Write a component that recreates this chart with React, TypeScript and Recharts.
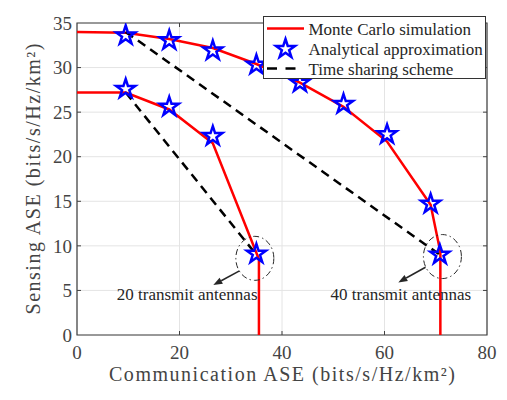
import React from 'react';
import {
  ComposedChart,
  Line,
  XAxis,
  YAxis,
  CartesianGrid,
  ReferenceArea,
  ReferenceDot,
  ReferenceLine,
  Label,
} from 'recharts';

// ---------- data ----------
const xTicks = [0, 20, 40, 60, 80];
const yTicks = [0, 5, 10, 15, 20, 25, 30, 35];

const seriesNames = ['Monte Carlo simulation', 'Analytical approximation', 'Time sharing scheme'];

// 20 transmit antennas
const mc20X = [0, 9.5, 18, 26.5, 35.5, 35.5];
const mc20Y = [27.2, 27.2, 25.3, 21.5, 8.5, 0];
const an20X = [9.5, 18, 26.5, 35];
const an20Y = [27.6, 25.6, 22.3, 9.1];
const ts20X = [9.5, 35];
const ts20Y = [27.2, 9.0];

// 40 transmit antennas
const mc40X = [0, 9.5, 18, 26.5, 35, 43.5, 52, 60.5, 69, 70.9, 70.9];
const mc40Y = [34.0, 33.9, 33.2, 32.2, 30.4, 28.3, 25.6, 21.7, 14.6, 9.3, 0];
const an40X = [9.5, 18, 26.5, 35, 43.5, 52, 60.5, 69, 70.8];
const an40Y = [33.6, 33.05, 31.9, 30.3, 28.3, 25.9, 22.5, 14.7, 9.0];
const ts40X = [9.5, 70.8];
const ts40Y = [34.0, 9.0];

// annotations
const annotLabels = ['20 transmit antennas', '40 transmit antennas'];
const circleX = [34.7, 71.3];
const circleY = [8.6, 8.8];
const arrowFromX = [31.7, 68.0];
const arrowFromY = [7.2, 7.6];
const arrowToX = [26.6, 62.7];
const arrowToY = [5.6, 5.9];
const labelX = [21.5, 63.2];
const labelY = [3.9, 3.9];

const pts = (xs: number[], ys: number[]) => xs.map((x, i) => ({ x, y: ys[i] }));

const RED = '#ff0000';
const BLUE = '#0000ff';
const SERIF = "'Liberation Serif', 'DejaVu Serif', 'Times New Roman', serif";
const AXIS_TEXT = '#444444';
const AXIS_LINE = '#404040';

const starPath = (cx: number, cy: number, R: number) => {
  const r = R * 0.382;
  let d = '';
  for (let k = 0; k < 10; k++) {
    const ang = (-90 + k * 36) * (Math.PI / 180);
    const rad = k % 2 === 0 ? R : r;
    const px = cx + rad * Math.cos(ang);
    const py = cy + rad * Math.sin(ang);
    d += (k === 0 ? 'M' : 'L') + px.toFixed(2) + ',' + py.toFixed(2);
  }
  return d + 'Z';
};

const StarDot = (props: any) => {
  const { cx, cy, index } = props;
  if (cx == null || cy == null) return <g key={index} />;
  return (
    <path
      key={index}
      d={starPath(cx, cy, 10)}
      fill="none"
      stroke={BLUE}
      strokeWidth={2.5}
      strokeLinejoin="miter"
    />
  );
};

const Ellipse = (props: any) => (
  <ellipse
    cx={props.cx}
    cy={props.cy}
    rx={19}
    ry={22}
    fill="none"
    stroke="#262626"
    strokeWidth={1}
    strokeDasharray="6 3 1.5 3"
  />
);

const Arrow = (props: any) => {
  const { x1, y1, x2, y2 } = props;
  const dx = x2 - x1;
  const dy = y2 - y1;
  const len = Math.sqrt(dx * dx + dy * dy) || 1;
  const ux = dx / len;
  const uy = dy / len;
  const hl = 9;
  const hw = 3.5;
  const bx = x2 - ux * hl;
  const by = y2 - uy * hl;
  const p1 = `${bx + -uy * hw},${by + ux * hw}`;
  const p2 = `${bx - -uy * hw},${by - ux * hw}`;
  return (
    <g>
      <line x1={x1} y1={y1} x2={bx} y2={by} stroke="#262626" strokeWidth={1.5} />
      <polygon points={`${x2},${y2} ${p1} ${p2}`} fill="#262626" />
    </g>
  );
};

// inward tick marks on the box (MATLAB style)
const VTick = (props: any) => {
  const { x1, y1, y2 } = props;
  const top = Math.min(y1, y2);
  const bot = Math.max(y1, y2);
  return (
    <g>
      <line x1={x1} y1={bot} x2={x1} y2={bot - 4} stroke={AXIS_LINE} strokeWidth={1} />
      <line x1={x1} y1={top} x2={x1} y2={top + 4} stroke={AXIS_LINE} strokeWidth={1} />
    </g>
  );
};
const HTick = (props: any) => {
  const { y1, x1, x2 } = props;
  const l = Math.min(x1, x2);
  const r = Math.max(x1, x2);
  return (
    <g>
      <line x1={l} y1={y1} x2={l + 4} y2={y1} stroke={AXIS_LINE} strokeWidth={1} />
      <line x1={r} y1={y1} x2={r - 4} y2={y1} stroke={AXIS_LINE} strokeWidth={1} />
    </g>
  );
};

const makeTextShape = (text: string) => (props: any) => (
  <text
    x={props.cx}
    y={props.cy}
    textAnchor="middle"
    style={{ fontFamily: SERIF, fontSize: 17 }}
    fill="#262626"
  >
    {text}
  </text>
);

const XLabel = (props: any) => {
  const vb = props.viewBox || { x: 69, y: 327, width: 410, height: 40 };
  return (
    <text
      x={vb.x + vb.width / 2}
      y={vb.y + 45.5}
      textAnchor="middle"
      style={{ fontFamily: SERIF, fontSize: 20 }}
      fill={AXIS_TEXT}
      textLength={346}
      lengthAdjust="spacing"
    >
      Communication ASE (bits/s/Hz/km²)
    </text>
  );
};

const YLabel = (props: any) => {
  const vb = props.viewBox || { x: 19, y: 15, width: 50, height: 312 };
  const cx = vb.x + 12.5;
  const cy = vb.y + vb.height / 2;
  return (
    <text
      x={cx}
      y={cy}
      transform={`rotate(-90, ${cx}, ${cy})`}
      textAnchor="middle"
      style={{ fontFamily: SERIF, fontSize: 20 }}
      fill={AXIS_TEXT}
      textLength={271}
      lengthAdjust="spacing"
    >
      Sensing ASE (bits/s/Hz/km²)
    </text>
  );
};

const LegendBox = () => (
  <div
    style={{
      position: 'absolute',
      left: 255,
      top: 8,
      width: 223,
      height: 63,
      boxSizing: 'border-box',
      border: '1px solid #333',
      background: '#fff',
    }}
  >
    <svg width={221} height={61} style={{ display: 'block' }}>
      <line x1={3} y1={11.5} x2={40} y2={11.5} stroke={RED} strokeWidth={2.5} />
      <path d={starPath(21.5, 32, 10)} fill="none" stroke={BLUE} strokeWidth={2.5} />
      <line x1={3} y1={51.5} x2={40} y2={51.5} stroke="#000" strokeWidth={2.5} strokeDasharray="10 8.5" />
      {seriesNames.map((n, i) => (
        <text key={n} x={44.5} y={17.5 + i * 20} style={{ fontFamily: SERIF, fontSize: 17 }} fill="#262626">
          {n}
        </text>
      ))}
    </svg>
  </div>
);

const tickStyle = { fontSize: 19, fontFamily: SERIF, fill: AXIS_TEXT };

export default function App() {
  const mc20 = pts(mc20X, mc20Y);
  const mc40 = pts(mc40X, mc40Y);
  const an20 = pts(an20X, an20Y);
  const an40 = pts(an40X, an40Y);
  const ts20 = pts(ts20X, ts20Y);
  const ts40 = pts(ts40X, ts40Y);

  return (
    <div style={{ position: 'relative', width: 499, height: 392, fontFamily: SERIF }}>
      <div
        style={{
          position: 'absolute',
          left: -1,
          top: -2,
          width: 500,
          height: 394,
          boxSizing: 'border-box',
          borderTop: '1px solid #333',
          borderLeft: '1px solid #333',
        }}
      />
      <ComposedChart
        width={499}
        height={392}
        margin={{ top: 15, right: 20, bottom: 25, left: 19 }}
        style={{ fontFamily: SERIF }}
      >
        <CartesianGrid stroke="#e4e4e4" strokeWidth={1} />
        <XAxis
          type="number"
          dataKey="x"
          domain={[0, 80]}
          ticks={xTicks}
          interval={0}
          allowDataOverflow
          height={40}
          tickLine={false}
          axisLine={false}
          tickSize={0}
          tickMargin={11}
          tick={tickStyle}
        >
          <Label content={XLabel} />
        </XAxis>
        <YAxis
          type="number"
          dataKey="y"
          domain={[0, 35]}
          ticks={yTicks}
          interval={0}
          allowDataOverflow
          width={50}
          tickLine={false}
          axisLine={false}
          tickSize={0}
          tickMargin={5}
          tick={tickStyle}
        >
          <Label content={YLabel} />
        </YAxis>
        <ReferenceArea x1={0} x2={80} y1={0} y2={35} fill="none" stroke={AXIS_LINE} strokeWidth={1.2} ifOverflow="visible" />
        {xTicks.slice(1, -1).map((t) => (
          <ReferenceLine key={'vx' + t} x={t} shape={VTick} ifOverflow="visible" />
        ))}
        {yTicks.slice(1, -1).map((t) => (
          <ReferenceLine key={'hy' + t} y={t} shape={HTick} ifOverflow="visible" />
        ))}

        <Line data={mc20} dataKey="y" stroke={RED} strokeWidth={2.5} dot={false} isAnimationActive={false} type="linear" />
        <Line data={mc40} dataKey="y" stroke={RED} strokeWidth={2.5} dot={false} isAnimationActive={false} type="linear" />
        <Line data={an20} dataKey="y" stroke="none" dot={StarDot} activeDot={false} isAnimationActive={false} />
        <Line data={an40} dataKey="y" stroke="none" dot={StarDot} activeDot={false} isAnimationActive={false} />
        <Line data={ts20} dataKey="y" stroke="#000" strokeWidth={2.5} strokeDasharray="9 6" dot={false} isAnimationActive={false} />
        <Line data={ts40} dataKey="y" stroke="#000" strokeWidth={2.5} strokeDasharray="9 6" dot={false} isAnimationActive={false} />

        {circleX.map((cx, i) => (
          <ReferenceDot key={'c' + i} x={cx} y={circleY[i]} r={19} shape={Ellipse} ifOverflow="visible" />
        ))}
        {arrowFromX.map((ax, i) => (
          <ReferenceLine
            key={'a' + i}
            segment={[
              { x: ax, y: arrowFromY[i] },
              { x: arrowToX[i], y: arrowToY[i] },
            ]}
            shape={Arrow}
            ifOverflow="visible"
          />
        ))}
        {labelX.map((lx, i) => (
          <ReferenceDot key={'t' + i} x={lx} y={labelY[i]} r={1} shape={makeTextShape(annotLabels[i])} ifOverflow="visible" />
        ))}
      </ComposedChart>
      <LegendBox />
    </div>
  );
}
